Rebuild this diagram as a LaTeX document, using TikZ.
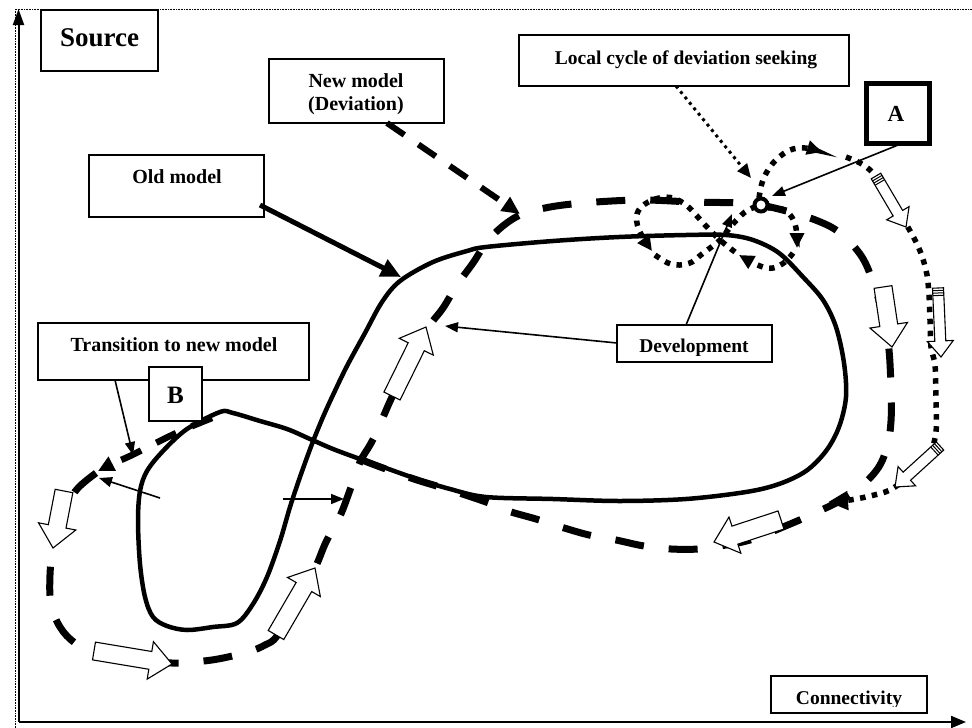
\documentclass[tikz,border=0pt]{standalone}
\usepackage{fontspec}
\setmainfont{Liberation Serif}
\usetikzlibrary{arrows.meta,fit}

\tikzset{
 solidline/.style={line width=4.5pt, line join=round},
 newdash/.style={line width=7pt, dash pattern=on 29pt off 25pt},
 dotline/.style={line width=5.5pt, dash pattern=on 5.5pt off 6.5pt},
 dottip/.style={-{Triangle[length=15pt,width=14pt]}},
 thinarrow/.style={line width=1.6pt, -{Triangle[length=13pt,width=10pt]}},
 boxstyle/.style={draw, line width=1.5pt, inner sep=0pt, fill=white},
 lbl/.style={font=\bfseries\fontsize{20}{23}\selectfont, inner sep=0pt, anchor=base},
 blockstyle/.style={draw, line width=1.1pt, fill=white, line join=miter},
}

% block arrow: x1 y1 x2 y2 bodyhalf headhalf headlength
\newcommand{\blkarr}[7]{%
 \pgfmathsetmacro\baang{atan2(#2-#4,#3-#1)}%
 \pgfmathsetmacro\balen{veclen(#3-#1,#4-#2)}%
 \begin{scope}[shift={(#1,#2)},rotate=\baang]
  \draw[blockstyle] (0,#5) -- ({\balen-#7},#5) -- ({\balen-#7},#6) -- (\balen,0) -- ({\balen-#7},-#6) -- ({\balen-#7},-#5) -- (0,-#5) -- cycle;
 \end{scope}}
% striped block arrow
\newcommand{\blkarrs}[7]{%
 \pgfmathsetmacro\baang{atan2(#2-#4,#3-#1)}%
 \pgfmathsetmacro\balen{veclen(#3-#1,#4-#2)}%
 \begin{scope}[shift={(#1,#2)},rotate=\baang]
  \draw[blockstyle] (0,#5) -- ({\balen-#7},#5) -- ({\balen-#7},#6) -- (\balen,0) -- ({\balen-#7},-#6) -- ({\balen-#7},-#5) -- (0,-#5) -- cycle;
  \draw[line width=1pt] (2.5,#5) -- (2.5,-#5) (5,#5) -- (5,-#5) (7.5,#5) -- (7.5,-#5);
 \end{scope}}

\begin{document}
\begin{tikzpicture}[x=1pt,y=-1pt]
\useasboundingbox (0,0) rectangle (972,728);

% frame and axes
\draw[line width=0.6pt, densely dotted] (16,9) -- (972,9);
\draw[line width=0.6pt, densely dotted] (15.5,9) -- (15.5,728);
\coordinate (origin) at (18.5,722);
\coordinate (ytop) at (18.5,9);
\coordinate (xend) at (966,722);
\draw[line width=2pt, -{Triangle[length=16pt,width=11pt]}] (origin) -- (ytop);
\draw[line width=2pt, -{Triangle[length=15pt,width=12pt]}] (origin) -- (xend);

% old model (solid figure eight)
\draw[solidline] plot[smooth cycle, tension=0.55] coordinates {
(220,412) (187,429) (163,451) (147,471) (140,491) (138,521) (140,564) (145,597) (153,617) (167,626) (187,630) (213,627) (237,623) (253,604) (267,577) (280,541) (290,507) (300,477) (312,444) (323,417) (333,395) (347,366) (365,333) (382,302) (400,281) (433,262) (467,251) (486,247) (553,241) (619,237) (686,235) (726,235) (753,240) (779,253) (803,277) (823,300) (836,327) (844,363) (846,397) (839,427) (826,451) (806,471) (779,484) (746,492) (686,499) (619,501) (553,499) (486,497) (450,489) (417,479) (383,467) (360,459) (333,449) (310,439) (287,429) (260,421) (233,413)};

% new model (dashed)
\draw[newdash] plot[smooth, tension=0.6] coordinates {
(96,473) (78,488) (67,505) (59,525) (53,548) (50,575) (51,604) (60,627) (75,643) (95,652) (130,660) (172,663) (193,662) (218,659) (248,652) (265,645) (277,636) (296,603) (315,568) (326,542) (340,516) (350,490) (360,462) (370,445) (378,429) (392,397) (410,362) (428,328) (443,308) (457,285) (473,263) (490,238) (516,217) (545,208) (583,203) (640,200) (693,202) (743,203) (761,205) (790,212) (818,221) (840,233) (862,257) (875,288) (884,320) (889,350) (891,390) (891,421) (887,447) (876,471) (850,495) (815,513) (783,527) (750,540) (720,546) (699,549) (671,549) (644,546) (616,540) (589,535) (561,527) (536,519) (508,511) (486,502) (450,490) (417,480) (383,468) (362,460)};

% transition segment at B
\draw[line width=6.5pt, dash pattern=on 22pt off 17pt, -{Triangle[length=16pt,width=15pt]}] plot[smooth, tension=0.6] coordinates {(212,418) (190,427) (170,436) (150,446) (130,456) (112,464) (98,471)};

% local cycle (dotted)
\draw[dotline, dottip] plot[smooth, tension=0.6] coordinates {(768,208) (782,209) (791,216) (796,228) (797,248)};
\draw[dotline, dottip] plot[smooth, tension=0.6] coordinates {(793,253) (785,262) (773,268) (760,266) (739,255)};
\draw[dotline, dottip] plot[smooth, tension=0.6] coordinates {(735,252) (720,240) (705,225) (696,215) (686,205) (673,198) (659,198) (645,204) (637,214) (639,230) (652,251)};
\draw[dotline] plot[smooth, tension=0.6] coordinates {(655,255) (668,263) (680,265) (692,262) (702,254) (720,240) (732,225) (745,212) (755,207)};

% outer deviation seeking orbit (dotted)
\draw[dotline, dottip] plot[smooth, tension=0.6] coordinates {(759,198) (762,183) (768,170) (777,159) (790,150) (805,148) (822,152)};
\draw[dotline, -{Triangle[length=20pt,width=18pt]}] plot[smooth, tension=0.5] coordinates {(846,157) (860,163) (872,172) (890,195) (905,222) (915,240) (922,256) (927,275) (929,295) (930,320) (931,347) (935,365) (936,400) (936,432) (930,452) (910,475) (890,490) (870,496) (850,500) (828,502)};

% block arrows along the new model
\blkarr{64}{491}{53}{548}{9}{19}{22}
\blkarr{94}{651}{172}{664}{9}{19}{22}
\blkarr{276}{635}{315}{568}{9}{19}{22}
\blkarr{392}{396}{426}{327}{9}{19}{22}
\blkarr{883}{287}{892}{347}{9}{19}{22}
\blkarr{781}{520}{714}{542}{9.5}{19}{22}
% block arrows along the dotted orbit
\blkarrs{876}{176}{906}{227}{5.5}{13}{16}
\blkarrs{938}{288}{941}{357}{5.5}{13}{16}
\blkarrs{940}{446}{895}{487}{5.5}{13}{16}

% deviation point
\node[circle, draw, line width=4pt, fill=white, inner sep=0pt, minimum size=13pt] (dev) at (761,205) {};

% boxes
\node[boxstyle, line width=2pt, fit={(41,10) (158,71)}] (sourcebox) {};
\node[boxstyle, fit={(269,59) (444,123)}] (newbox) {};
\node[boxstyle, fit={(89,155) (264,217)}] (oldbox) {};
\node[boxstyle, fit={(38,323) (309,380)}] (transbox) {};
\node[boxstyle, fit={(149,367) (202,421)}] (bbox) {};
\node[boxstyle, fit={(519,35) (849,86)}] (localbox) {};
\node[boxstyle, line width=5pt, fit={(866,83) (929,143)}] (abox) {};
\node[boxstyle, fit={(617,325) (772,362)}] (devbox) {};
\node[boxstyle, fit={(771,676) (927,713)}] (conbox) {};

% labels
\node[lbl, font=\bfseries\fontsize{27}{30}\selectfont] (source) at (99.5,46) {Source};
\node[lbl] (newa) at (356,87.5) {New model};
\node[lbl] (newb) at (356,110.5) {(Deviation)};
\node[lbl] (old) at (177,183.5) {Old model};
\node[lbl] (trans) at (174,351) {Transition to new model};
\node[lbl, font=\bfseries\fontsize{25}{28}\selectfont] (blab) at (175.5,403.5) {B};
\node[lbl, font=\bfseries\fontsize{19.5}{23}\selectfont] (local) at (686,64) {Local cycle of deviation seeking};
\node[lbl, font=\bfseries\fontsize{23}{26}\selectfont] (alab) at (896,121) {A};
\begin{scope}
\clip (617,325) rectangle (772,355);
\node[lbl, font=\bfseries\fontsize{19.5}{23}\selectfont] (devlab) at (694,352.5) {Development};
\end{scope}
\begin{scope}
\clip (771,676) rectangle (927,706.5);
\node[lbl, font=\bfseries\fontsize{19.5}{23}\selectfont] (conlab) at (849,704) {Connectivity};
\end{scope}

% pointer arrows
\coordinate (oldfrom) at (260,205);
\coordinate (oldto) at (401,277);
\draw[line width=5pt, -{Triangle[length=20pt,width=18pt]}] (oldfrom) -- (oldto);
\coordinate (newfrom) at (387,123);
\coordinate (newto) at (520,214);
\draw[line width=6pt, dash pattern=on 21pt off 17pt, -{Triangle[length=18pt,width=16pt]}] (newfrom) -- (newto);
\coordinate (localfrom) at (676,86);
\coordinate (localto) at (751,178);
\draw[line width=3pt, dash pattern=on 3pt off 4pt, -{Triangle[length=14pt,width=12pt]}] (localfrom) -- (localto);
\coordinate (afrom) at (903,143);
\coordinate (ato) at (772,196);
\draw[thinarrow] (afrom) -- (ato);
\coordinate (devfromA) at (617,343);
\coordinate (devtoA) at (445,326);
\draw[thinarrow] (devfromA) -- (devtoA);
\coordinate (devfromB) at (686,325);
\coordinate (devtoB) at (732,214);
\draw[thinarrow] (devfromB) -- (devtoB);
\coordinate (trfrom) at (115,380);
\coordinate (trto) at (133,455);
\draw[thinarrow] (trfrom) -- (trto);
\coordinate (leftfrom) at (160,498);
\coordinate (leftto) at (99,478);
\draw[thinarrow] (leftfrom) -- (leftto);
\coordinate (rightfrom) at (283,499);
\coordinate (rightto) at (344,499);
\draw[thinarrow] (rightfrom) -- (rightto);
\end{tikzpicture}
\end{document}
